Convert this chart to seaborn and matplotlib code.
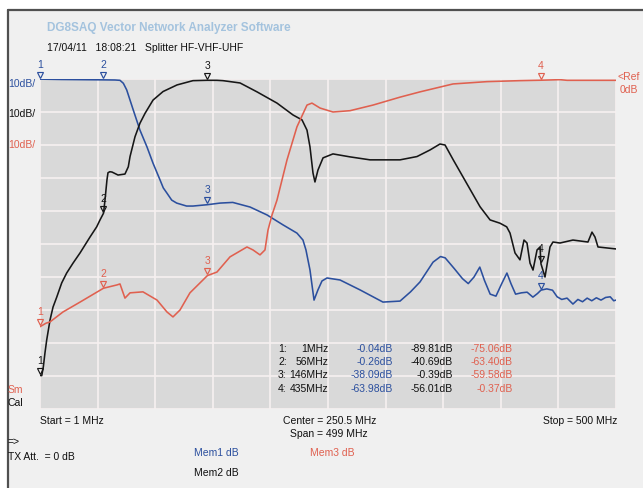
import matplotlib
matplotlib.use("Agg")
import matplotlib.pyplot as plt
from matplotlib.patches import Rectangle
from matplotlib.lines import Line2D
from matplotlib.transforms import offset_copy
import numpy as np
import pandas as pd
import seaborn as sns

# ---- sweep settings ----
f_start, f_stop = 1.0, 500.0          # MHz
ref_db, db_per_div, n_div = 0.0, 10.0, 10

# ---- Mem1 (blue) trace: frequency (MHz) / level (dB) ----
mem1_freq = [1, 20, 56, 66, 70.3, 73.2, 76.1, 79, 81.8, 87.6, 93.7, 98.9, 105, 107.8,
             110.8, 115.1, 119.4, 128, 133.5, 146, 157, 168, 183, 197.7, 211.5, 223.6,
             228.8, 231.4, 234.9, 238.4, 241.8, 245.3, 249.6, 260.9, 278.2, 298.1,
             312.9, 322, 330.2, 341.5, 348, 352, 360, 367, 372, 377, 382, 386, 391,
             396, 401, 405.5, 409, 413, 418, 423, 428, 432, 435, 440, 445, 449, 453,
             457.6, 462.7, 467, 471, 475, 479, 483, 487, 491, 495, 498, 500]
mem1_db = [-0.04, -0.15, -0.26, -0.3, -0.4, -1.3, -3.3, -6.4, -9.4, -15.5, -20.6,
           -25.5, -30.6, -33.0, -34.5, -36.7, -37.6, -38.5, -38.5, -38.09, -37.6,
           -37.4, -38.8, -41.2, -44.2, -46.7, -48.8, -51.8, -57.9, -67.0, -63.9,
           -61.2, -60.3, -60.9, -63.9, -67.6, -67.3, -64.5, -61.5, -55.5, -53.8,
           -54.2, -57.5, -60.5, -62.0, -60.0, -57.0, -61.0, -65.2, -65.8, -62.0,
           -58.8, -62.0, -65.2, -64.8, -64.6, -66.1, -65.0, -63.98, -63.6, -64.0,
           -66.0, -66.8, -66.4, -68.2, -66.8, -67.5, -66.4, -67.2, -66.3, -67.0,
           -66.2, -66.0, -67.2, -67.0]

# ---- Mem2 (black) trace ----
mem2_freq = [1, 2.5, 3.9, 5.3, 6.8, 9.7, 12.3, 15.5, 19.8, 24.1, 29.6, 35.7, 44.3,
             50.1, 53, 56, 57.3, 59, 59.9, 61.5, 63.4, 68.6, 74.6, 77.5, 79, 83.3,
             87.6, 92, 98.9, 107.6, 119.7, 133.5, 146, 154.3, 159.5, 174.3, 189,
             206.3, 220.2, 228, 232.3, 234.9, 237.5, 239.2, 241.8, 246.2, 254.8, 269.6,
             286.9, 312.9, 327.6, 338.9, 347.5, 351.9, 359, 370.6, 382.2, 390.9,
             399.5, 405.3, 408.2, 412.5, 416.8, 420.3, 422.9, 425.5, 428.1, 431.6,
             434.2, 435, 438.5, 442.8, 445.4, 451.5, 462.7, 475.7, 479.2, 481.8,
             484.4, 492.2, 500]
mem2_db = [-89.81, -89.9, -87.2, -83.0, -79.1, -73.0, -69.1, -66.1, -61.8, -58.8,
           -55.8, -52.7, -47.9, -44.8, -42.7, -40.69, -36.7, -30.6, -28.4, -28.1,
           -28.2, -29.1, -28.8, -26.6, -23.5, -17.5, -13.4, -10.4, -6.4, -3.8, -1.8,
           -0.5, -0.39, -0.4, -0.5, -1.2, -3.9, -7.3, -10.9, -12.4, -15.5, -20.6,
           -28.5, -31.2, -27.6, -23.9, -22.7, -23.6, -24.5, -24.5, -23.5, -21.5,
           -19.7, -20.0, -24.5, -31.6, -38.7, -42.7, -43.7, -44.8, -46.7, -52.7,
           -54.8, -48.8, -49.7, -55.8, -57.9, -51.8, -50.9, -56.01, -60.0, -50.9,
           -49.4, -49.7, -48.8, -49.4, -46.4, -47.9, -50.9, -51.2, -51.5]

# ---- Mem3 (red) trace ----
mem3_freq = [1, 6.2, 9.7, 20.9, 35.7, 56, 67.7, 70.3, 74.6, 79, 90.2, 102.4, 111,
             116.2, 122.3, 130.9, 146, 154.3, 165.6, 180.3, 185.5, 191.6, 195.9,
             198.5, 202, 206.3, 215, 223.6, 232.3, 236.6, 243.6, 254.8, 269.6,
             289.5, 312.9, 330.2, 358.8, 388.2, 416.8, 435, 451.5, 457.6, 500]
mem3_db = [-75.06, -74.0, -73.6, -70.6, -67.6, -63.40, -62.4, -62.1, -66.4, -64.8,
           -64.5, -67.0, -70.6, -72.1, -70.0, -64.8, -59.58, -58.5, -53.9, -50.9,
           -51.8, -53.3, -51.8, -45.8, -41.2, -36.7, -24.5, -14.5, -7.9, -7.3,
           -8.8, -10.0, -9.6, -7.9, -5.5, -3.9, -1.5, -0.8, -0.5, -0.37, -0.2,
           -0.4, -0.4]

# ---- marker readout ----
marker_ids = ["1", "2", "3", "4"]
marker_freq = [1, 56, 146, 435]
marker_mem1 = [-0.04, -0.26, -38.09, -63.98]
marker_mem2 = [-89.81, -40.69, -0.39, -56.01]
marker_mem3 = [-75.06, -63.40, -59.58, -0.37]

C_BLUE = "#2b4f9e"
C_BLACK = "#161616"
C_RED = "#e0604f"
FONT = ["Liberation Sans Narrow", "Liberation Sans", "DejaVu Sans"]

sns.set_style("white")
plt.rcParams["font.family"] = FONT

W, H = 643, 488
fig = plt.figure(figsize=(W / 100, H / 100), dpi=100, facecolor="white")


def fx(x):
    return x / W


def fy(y):
    return 1 - y / H


# window frame (behind the axes)
fig.patches.append(Rectangle((fx(8), 0), 1 - fx(8), fy(10), transform=fig.transFigure,
                             facecolor="#f0f0f0", edgecolor="none", zorder=-5))
fig.lines.append(Line2D([fx(8), fx(8)], [0, fy(10)], transform=fig.transFigure,
                        color="#505050", lw=1.6, zorder=-4))
fig.lines.append(Line2D([fx(8), 1], [fy(10), fy(10)], transform=fig.transFigure,
                        color="#505050", lw=1.6, zorder=-4))

ax = fig.add_axes([fx(40), fy(409), (616 - 40) / W, (409 - 79) / H])
ax.set_facecolor("#d9d9d9")
ax.set_zorder(1)

traces = pd.concat([
    pd.DataFrame({"MHz": mem1_freq, "dB": mem1_db, "trace": "Mem1"}),
    pd.DataFrame({"MHz": mem2_freq, "dB": mem2_db, "trace": "Mem2"}),
    pd.DataFrame({"MHz": mem3_freq, "dB": mem3_db, "trace": "Mem3"}),
])
palette = {"Mem1": C_BLUE, "Mem2": C_BLACK, "Mem3": C_RED}
sns.lineplot(data=traces, x="MHz", y="dB", hue="trace", palette=palette,
             estimator=None, sort=False, lw=1.15, legend=False, ax=ax, zorder=3)

ax.set_xlim(f_start, f_stop)
ax.set_ylim(ref_db - n_div * db_per_div, ref_db)
ax.set_xticks(np.linspace(f_start, f_stop, 11))
ax.set_yticks(np.linspace(ref_db - n_div * db_per_div, ref_db, n_div + 1))
ax.grid(True, color="#f7f0f0", lw=1.2)
ax.tick_params(length=0, labelbottom=False, labelleft=False)
ax.set_xlabel("")
ax.set_ylabel("")
for s in ax.spines.values():
    s.set_visible(False)

# marker triangles with their numbers
tri = offset_copy(ax.transData, fig=fig, x=0, y=4.5, units="dots")
for vals, col in ((marker_mem1, C_BLUE), (marker_mem2, C_BLACK), (marker_mem3, C_RED)):
    for mid, f, v in zip(marker_ids, marker_freq, vals):
        ax.plot([f], [v], marker="v", ms=5, mfc="none", mec=col, mew=0.85,
                transform=tri, clip_on=False, zorder=5)
        ax.annotate(mid, (f, v), xytext=(0, 9.5), textcoords="offset pixels",
                    ha="center", va="bottom", fontsize=7.5, color=col,
                    annotation_clip=False, zorder=5)

# readout table inside the grid
row_y = [349, 362, 375, 389]
for i, mid in enumerate(marker_ids):
    y = fy(row_y[i])
    fig.text(fx(278), y, f"{mid}:", fontsize=7.5, color="#101010", va="center", zorder=6)
    fig.text(fx(328), y, f"{marker_freq[i]:g}MHz", fontsize=7.5, color="#101010",
             va="center", ha="right", zorder=6)
    fig.text(fx(393), y, f"{marker_mem1[i]:.2f}dB", fontsize=7.5, color=C_BLUE,
             va="center", ha="right", zorder=6)
    fig.text(fx(453), y, f"{marker_mem2[i]:.2f}dB", fontsize=7.5, color="#101010",
             va="center", ha="right", zorder=6)
    fig.text(fx(513), y, f"{marker_mem3[i]:.2f}dB", fontsize=7.5, color=C_RED,
             va="center", ha="right", zorder=6)

# header
fig.text(fx(47), fy(28), "DG8SAQ Vector Network Analyzer Software", fontsize=8.5,
         fontweight="bold", color="#a4c3de", va="center")
fig.text(fx(47), fy(48), "17/04/11   18:08:21   Splitter HF-VHF-UHF", fontsize=7.5,
         color="#101010", va="center")

# scale labels
fig.text(fx(8), fy(84), "10dB/", fontsize=7.5, color=C_BLUE, va="center")
fig.text(fx(8), fy(114), "10dB/", fontsize=7.5, color="#101010", va="center")
fig.text(fx(8), fy(145), "10dB/", fontsize=7.5, color=C_RED, va="center")
fig.text(fx(617), fy(77), "<Ref", fontsize=7.5, color=C_RED, va="center")
fig.text(fx(620), fy(90), "0dB", fontsize=7.5, color=C_RED, va="center")
fig.text(fx(8), fy(390), "Sm", fontsize=7.5, color=C_RED, va="center")
fig.text(fx(8), fy(403), "Cal", fontsize=7.5, color="#101010", va="center")

# sweep info
fig.text(fx(40), fy(421), f"Start = {f_start:g} MHz", fontsize=7.5, color="#101010",
         va="center")
fig.text(fx(283), fy(421), f"Center = {(f_start + f_stop) / 2:g} MHz", fontsize=7.5,
         color="#101010", va="center")
fig.text(fx(290), fy(434), f"Span = {f_stop - f_start:g} MHz", fontsize=7.5,
         color="#101010", va="center")
fig.text(fx(617), fy(421), f"Stop = {f_stop:g} MHz", fontsize=7.5, color="#101010",
         va="center", ha="right")
fig.text(fx(8), fy(442), "=>", fontsize=7.5, color="#101010", va="center")
fig.text(fx(8), fy(457), "TX Att.  = 0 dB", fontsize=7.5, color="#101010", va="center")
fig.text(fx(194), fy(453), "Mem1 dB", fontsize=7.5, color=C_BLUE, va="center")
fig.text(fx(310), fy(453), "Mem3 dB", fontsize=7.5, color=C_RED, va="center")
fig.text(fx(194), fy(473), "Mem2 dB", fontsize=7.5, color="#101010", va="center")

fig.savefig("out.png", dpi=100, facecolor="white")
